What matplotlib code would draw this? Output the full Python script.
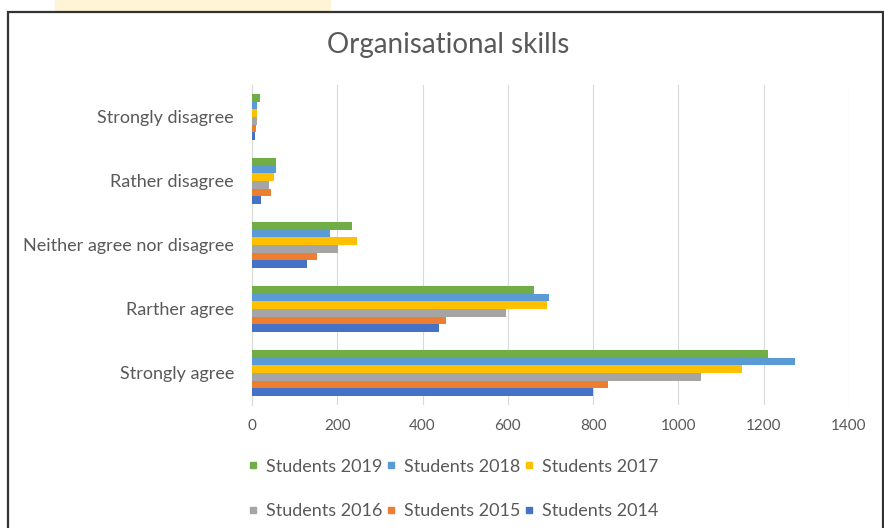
import matplotlib.pyplot as plt
import matplotlib.patches as mpatches
from matplotlib.lines import Line2D
import numpy as np

# categories, bottom to top as drawn
categories = ['Strongly agree', 'Rarther agree', 'Neither agree nor disagree',
              'Rather disagree', 'Strongly disagree']

# values per series, same order as categories
students_2014 = [800, 438, 129, 21, 8]
students_2015 = [835, 456, 153, 45, 10]
students_2016 = [1054, 595, 202, 40, 11]
students_2017 = [1148, 692, 247, 52, 12]
students_2018 = [1273, 696, 184, 56, 12]
students_2019 = [1209, 661, 235, 56, 19]

series_names = ['Students 2014', 'Students 2015', 'Students 2016',
                'Students 2017', 'Students 2018', 'Students 2019']
series_vals = [students_2014, students_2015, students_2016,
               students_2017, students_2018, students_2019]
colors = ['#4472C4', '#ED7D31', '#A5A5A5', '#FFC000', '#5B9BD5', '#70AD47']

xticks = [0, 200, 400, 600, 800, 1000, 1200, 1400]

plt.rcParams['font.family'] = ['Lato', 'DejaVu Sans']
txt = '#595959'

fig = plt.figure(figsize=(8.84, 5.28), dpi=100)

# 外框
fig.patches.append(mpatches.Rectangle((55 / 884, 1 - 12 / 528), 275 / 884, 12 / 528,
                                      transform=fig.transFigure, color='#FFF4D6', zorder=0))
fig.patches.append(mpatches.Rectangle((8 / 884, -0.01), 0.99, 1 - 12 / 528 + 0.01,
                                      transform=fig.transFigure, facecolor='white',
                                      edgecolor='#333333', linewidth=1.6, zorder=1))

ax = fig.add_axes([252 / 884, 1 - 405 / 528, (849 - 252) / 884, 320 / 528])
ax.set_zorder(2)
ax.patch.set_alpha(0)

n = len(series_vals)
y = np.arange(len(categories))
group_h = 0.72
bar_h = group_h / n
for i, (name, vals, c) in enumerate(zip(series_names, series_vals, colors)):
    offs = -group_h / 2 + bar_h * (i + 0.5)
    ax.barh(y + offs, vals, height=bar_h, color=c, label=name, zorder=3)

ax.set_xlim(0, 1400)
ax.set_ylim(-0.5, len(categories) - 0.5)
ax.set_xticks(xticks)
ax.set_xticklabels([str(t) for t in xticks])
ax.set_yticks(y)
ax.set_yticklabels(categories)
ax.tick_params(axis='both', length=0, colors=txt)
ax.tick_params(axis='x', pad=10, labelsize=11)
ax.tick_params(axis='y', pad=13, labelsize=13)
ax.grid(axis='x', color='#D9D9D9', linewidth=0.8, zorder=0)
for s in ['top', 'right', 'bottom']:
    ax.spines[s].set_visible(False)
ax.spines['left'].set_color('#D9D9D9')

fig.text(448 / 884, 1 - 45 / 528, 'Organisational skills', ha='center', va='center',
         fontsize=20, color=txt, zorder=3)

# 图例：两行三列，小方块
order = [5, 2, 4, 1, 3, 0]
handles = [Line2D([], [], marker='s', linestyle='none', markersize=5,
                  color=colors[k]) for k in order]
labels = [series_names[k] for k in order]
leg = fig.legend(handles, labels, ncol=3,
                 loc='center', bbox_to_anchor=(454 / 884, 1 - 489 / 528),
                 frameon=False, fontsize=13, handlelength=0.4,
                 handletextpad=0.5, columnspacing=0.3, labelspacing=1.6)
for t in leg.get_texts():
    t.set_color(txt)

fig.savefig('out.png', dpi=100)
